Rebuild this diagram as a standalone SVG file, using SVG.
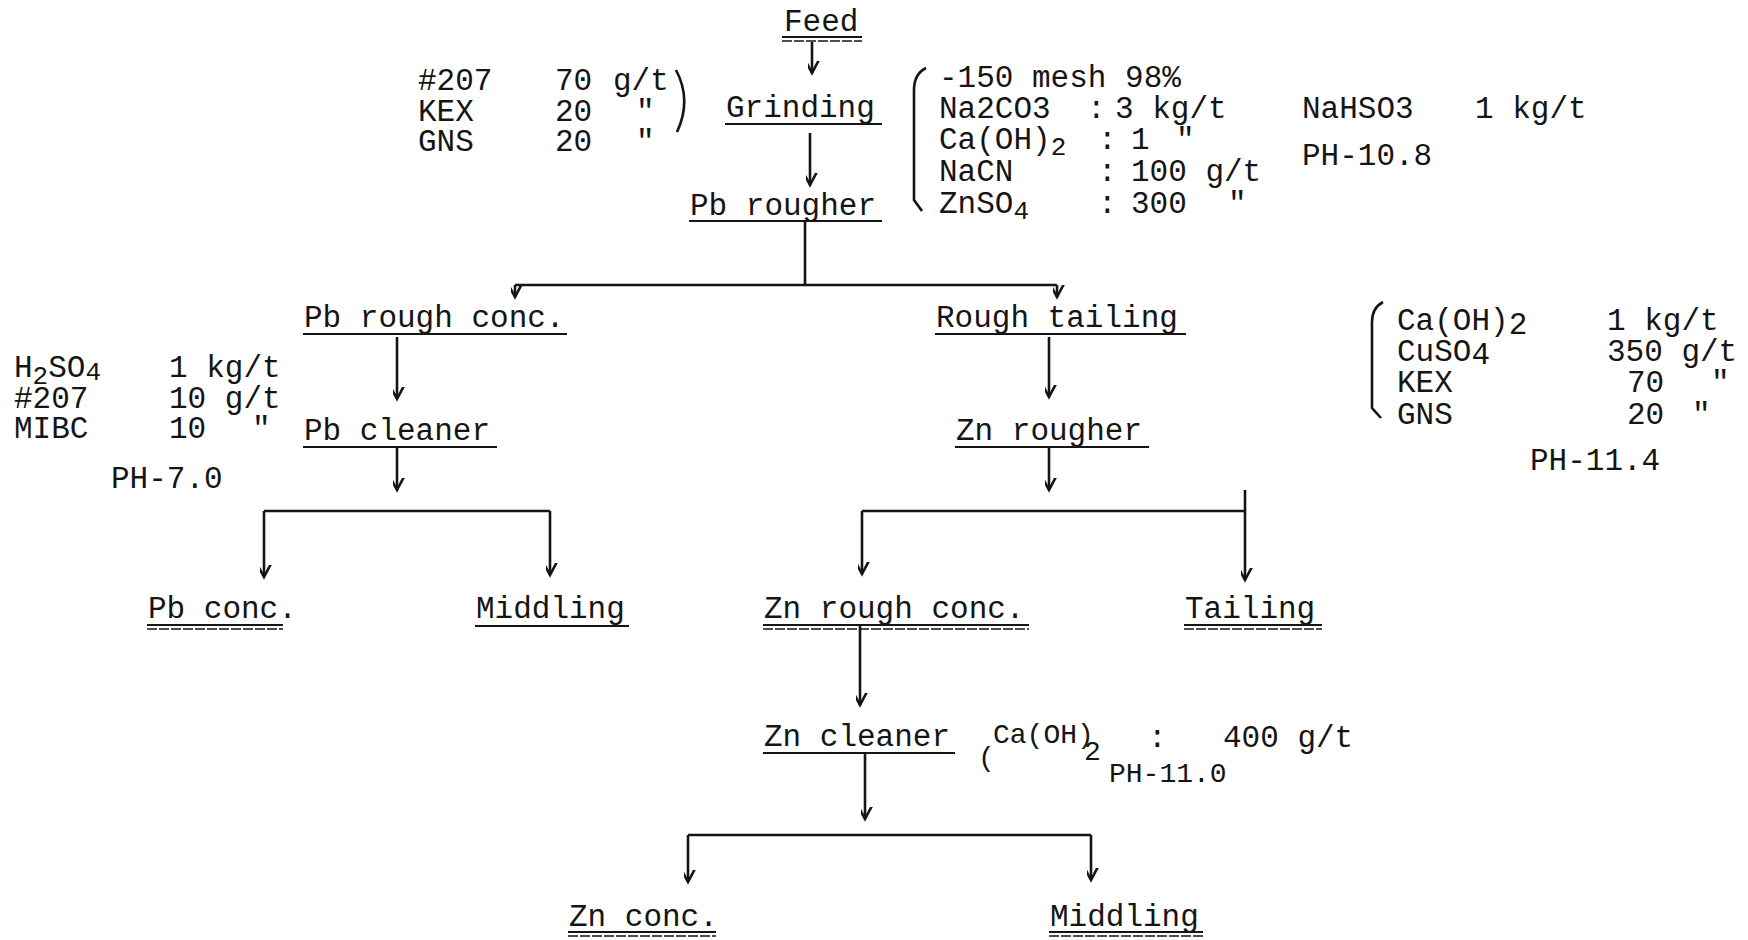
<svg xmlns="http://www.w3.org/2000/svg" width="1748" height="940" viewBox="0 0 1748 940">
<style>
text{font-family:"Liberation Mono","DejaVu Sans Mono",monospace;font-size:31px;fill:#151515}
.s{font-size:26px}
.sm{font-size:28px}
.ln{stroke:#151515;stroke-width:2.6;fill:none}
.ul{stroke:#151515;stroke-width:2.2;fill:none}
.ul2{stroke:#151515;stroke-width:1.6;fill:none;stroke-dasharray:10 2}
</style>
<defs>
<marker id="v" markerUnits="userSpaceOnUse" markerWidth="24" markerHeight="24" viewBox="-12 -20 24 24" refX="0" refY="0" orient="auto-start-reverse">
<path d="M-9,-17 L0,0 L9,-17" transform="rotate(-90)" fill="none" stroke="#151515" stroke-width="2.6"/>
</marker>
</defs>
<rect width="1748" height="940" fill="#fff"/>

<g id="connectors">
<line class="ln" x1="812" y1="42" x2="812" y2="73" marker-end="url(#v)"/>
<line class="ln" x1="810" y1="133" x2="810" y2="185" marker-end="url(#v)"/>
<line class="ln" x1="805" y1="221" x2="805" y2="285"/>
<line class="ln" x1="515" y1="285" x2="1057" y2="285"/>
<line class="ln" x1="515" y1="285" x2="515" y2="297" marker-end="url(#v)"/>
<line class="ln" x1="1057" y1="285" x2="1057" y2="297" marker-end="url(#v)"/>
<line class="ln" x1="397" y1="337" x2="397" y2="399" marker-end="url(#v)"/>
<line class="ln" x1="1049" y1="337" x2="1049" y2="397" marker-end="url(#v)"/>
<line class="ln" x1="397" y1="448" x2="397" y2="490" marker-end="url(#v)"/>
<line class="ln" x1="264" y1="511" x2="550" y2="511"/>
<line class="ln" x1="264" y1="511" x2="264" y2="577" marker-end="url(#v)"/>
<line class="ln" x1="550" y1="511" x2="550" y2="575" marker-end="url(#v)"/>
<line class="ln" x1="1049" y1="448" x2="1049" y2="490" marker-end="url(#v)"/>
<line class="ln" x1="862" y1="511" x2="1245" y2="511"/>
<line class="ln" x1="862" y1="511" x2="862" y2="574" marker-end="url(#v)"/>
<line class="ln" x1="1245" y1="490" x2="1245" y2="580" marker-end="url(#v)"/>
<line class="ln" x1="860" y1="624" x2="860" y2="705" marker-end="url(#v)"/>
<line class="ln" x1="865" y1="752" x2="865" y2="819" marker-end="url(#v)"/>
<line class="ln" x1="688" y1="835" x2="1091" y2="835"/>
<line class="ln" x1="688" y1="835" x2="688" y2="882" marker-end="url(#v)"/>
<line class="ln" x1="1091" y1="835" x2="1091" y2="880" marker-end="url(#v)"/>
</g>

<g id="feed"><text x="784" y="31">Feed</text><line class="ul" x1="782" y1="37" x2="862" y2="37"/><line class="ul2" x1="782" y1="41" x2="862" y2="41"/></g>
<g id="grinding"><text x="726" y="117">Grinding</text><line class="ul" x1="725" y1="124" x2="882" y2="124"/></g>
<g id="pb-rougher"><text x="690" y="215">Pb rougher</text><line class="ul" x1="689" y1="221" x2="882" y2="221"/></g>

<g id="reagents-grinding-left">
<text x="418" y="90">#207</text><text x="555" y="90">70</text><text x="613" y="90">g/t</text>
<text x="418" y="121">KEX</text><text x="555" y="121">20</text><text x="636" y="121">"</text>
<text x="418" y="151">GNS</text><text x="555" y="151">20</text><text x="636" y="151">"</text>
<path class="ln" d="M676,70 Q692,100 677,132"/>
</g>

<g id="reagents-grinding-right">
<path class="ln" d="M926,68 Q914,74 914,90 L914,200 L922,211"/>
<text x="939" y="87">-150 mesh 98%</text>
<text x="939" y="118">Na2CO3</text><text x="1087" y="118">:</text><text x="1115" y="118">3 kg/t</text>
<text x="939" y="149">Ca(OH)<tspan class="s" dy="6">2</tspan></text><text x="1098" y="149">:</text><text x="1131" y="149">1</text><text x="1176" y="149">"</text>
<text x="939" y="181">NaCN</text><text x="1098" y="181">:</text><text x="1131" y="181">100 g/t</text>
<text x="939" y="213">ZnSO<tspan class="s" dy="6">4</tspan></text><text x="1098" y="213">:</text><text x="1131" y="213">300</text><text x="1228" y="213">"</text>
<text x="1302" y="118">NaHSO3</text><text x="1475" y="118">1 kg/t</text>
<text x="1302" y="165">PH-10.8</text>
</g>

<g id="pb-rough-conc"><text x="304" y="327">Pb rough conc.</text><line class="ul" x1="303" y1="334" x2="567" y2="334"/></g>
<g id="rough-tailing"><text x="936" y="327">Rough tailing</text><line class="ul" x1="935" y1="334" x2="1186" y2="334"/></g>

<g id="reagents-pb-cleaner">
<text x="14" y="377">H<tspan class="s" dy="7">2</tspan><tspan dy="-7">SO</tspan><tspan class="s" dy="3">4</tspan></text><text x="169" y="377">1 kg/t</text>
<text x="14" y="408">#207</text><text x="169" y="408">10 g/t</text>
<text x="14" y="438">MIBC</text><text x="169" y="438">10</text><text x="252" y="438">"</text>
<text x="111" y="488">PH-7.0</text>
</g>

<g id="pb-cleaner"><text x="304" y="440">Pb cleaner</text><line class="ul" x1="303" y1="447" x2="497" y2="447"/></g>
<g id="zn-rougher"><text x="956" y="440">Zn rougher</text><line class="ul" x1="955" y1="447" x2="1149" y2="447"/></g>

<g id="reagents-zn-rougher">
<path class="ln" d="M1383,302 Q1372,308 1372,322 L1372,408 L1381,418"/>
<text x="1397" y="330">Ca(OH)<tspan dy="4">2</tspan></text><text x="1607" y="330">1 kg/t</text>
<text x="1397" y="361">CuSO<tspan dy="3">4</tspan></text><text x="1607" y="361">350 g/t</text>
<text x="1397" y="392">KEX</text><text x="1627" y="392">70</text><text x="1711" y="392">"</text>
<text x="1397" y="424">GNS</text><text x="1627" y="424">20</text><text x="1692" y="424">"</text>
<text x="1530" y="470">PH-11.4</text>
</g>

<g id="pb-conc"><text x="148" y="618">Pb conc.</text><line class="ul" x1="147" y1="625" x2="283" y2="625"/><line class="ul2" x1="147" y1="629" x2="283" y2="629"/></g>
<g id="middling-pb"><text x="476" y="618">Middling</text><line class="ul" x1="475" y1="626" x2="629" y2="626"/></g>
<g id="zn-rough-conc"><text x="764" y="618">Zn rough conc.</text><line class="ul" x1="763" y1="625" x2="1029" y2="625"/><line class="ul2" x1="763" y1="629" x2="1029" y2="629"/></g>
<g id="tailing"><text x="1185" y="618">Tailing</text><line class="ul" x1="1184" y1="625" x2="1322" y2="625"/><line class="ul2" x1="1184" y1="629" x2="1322" y2="629"/></g>

<g id="zn-cleaner"><text x="764" y="746">Zn cleaner</text><line class="ul" x1="763" y1="753" x2="955" y2="753"/></g>
<g id="reagents-zn-cleaner">
<text class="sm" x="978" y="766">(</text>
<text class="sm" x="993" y="743">Ca(OH)</text><text class="sm" x="1084" y="760">2</text>
<text x="1148" y="747">:</text><text x="1223" y="747">400 g/t</text>
<text class="sm" x="1109" y="782">PH-11.0</text>
</g>

<g id="zn-conc"><text x="569" y="926">Zn conc.</text><line class="ul" x1="568" y1="932" x2="716" y2="932"/><line class="ul2" x1="568" y1="936" x2="716" y2="936"/></g>
<g id="middling-zn"><text x="1050" y="926">Middling</text><line class="ul" x1="1049" y1="932" x2="1203" y2="932"/><line class="ul2" x1="1049" y1="936" x2="1203" y2="936"/></g>
</svg>
